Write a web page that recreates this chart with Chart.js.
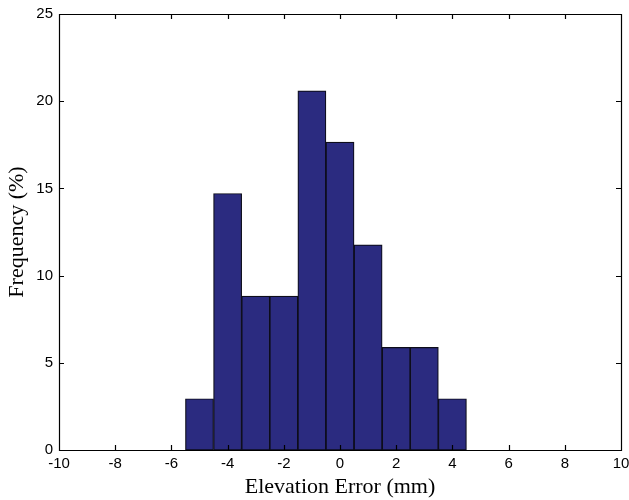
<!DOCTYPE html>
<html>
<head>
<meta charset="utf-8">
<script src="https://cdn.jsdelivr.net/npm/chart.js@4.4.1/dist/chart.umd.min.js"></script>
<style>
  html, body { margin: 0; padding: 0; background: #fff; }
  #wrap { width: 629px; height: 500px; }
</style>
</head>
<body>
<div id="wrap"><canvas id="hist" width="629" height="500"></canvas></div>
<script>
// Histogram of elevation error, bin width 1 mm
const binCenters = [-5, -4, -3, -2, -1, 0, 1, 2, 3, 4];
const frequency = [2.94, 14.71, 8.82, 8.82, 20.59, 17.65, 11.76, 5.88, 5.88, 2.94];
const xTicks = [-10, -8, -6, -4, -2, 0, 2, 4, 6, 8, 10];
const yTicks = [0, 5, 10, 15, 20, 25];

const tickFont = { family: "'Liberation Sans', Arial, sans-serif", size: 15 };
const titleFont = { family: "'Liberation Serif', 'Times New Roman', serif", size: 22 };

// MATLAB-style box with inward ticks on all four sides
const boxTicks = {
  id: 'boxTicks',
  afterDraw(chart) {
    const { ctx, chartArea: a, scales } = chart;
    const len = 5;
    ctx.save();
    ctx.strokeStyle = '#000';
    ctx.lineWidth = 1.2;
    ctx.beginPath();
    ctx.rect(a.left + 0.5, a.top + 0.5, a.right - a.left, a.bottom - a.top);
    xTicks.forEach(v => {
      const px = Math.round(scales.x.getPixelForValue(v)) + 0.5;
      ctx.moveTo(px, a.bottom); ctx.lineTo(px, a.bottom - len);
      ctx.moveTo(px, a.top); ctx.lineTo(px, a.top + len);
    });
    yTicks.forEach(v => {
      const py = Math.round(scales.y.getPixelForValue(v)) + 0.5;
      ctx.moveTo(a.left, py); ctx.lineTo(a.left + len, py);
      ctx.moveTo(a.right, py); ctx.lineTo(a.right - len, py);
    });
    ctx.stroke();
    ctx.restore();
  }
};

new Chart(document.getElementById('hist').getContext('2d'), {
  type: 'bar',
  data: {
    datasets: [{
      data: binCenters.map((x, i) => ({ x, y: frequency[i] })),
      backgroundColor: '#2b2b80',
      borderColor: '#0d0d1a',
      borderWidth: 1.2,
      borderSkipped: false,
      barPercentage: 1,
      categoryPercentage: 1
    }]
  },
  options: {
    responsive: false,
    animation: false,
    devicePixelRatio: 1,
    layout: { padding: { top: 14, right: 8, left: 0, bottom: 0 } },
    plugins: { legend: { display: false }, tooltip: { enabled: false } },
    scales: {
      x: {
        type: 'linear',
        min: -10,
        max: 10,
        offset: false,
        afterFit: s => { s.height = 50; s.paddingLeft = 0; s.paddingRight = 0; },
        afterBuildTicks: s => { s.ticks = xTicks.map(v => ({ value: v })); },
        grid: { display: false, drawTicks: false },
        border: { display: false },
        ticks: { color: '#000', font: tickFont, padding: 5, maxRotation: 0 },
        title: { display: true, text: 'Elevation Error (mm)', color: '#000', font: titleFont, padding: { top: 0, bottom: 0 } }
      },
      y: {
        min: 0,
        max: 25,
        afterFit: s => { s.width = 59; s.paddingTop = 0; s.paddingBottom = 0; },
        afterBuildTicks: s => { s.ticks = yTicks.map(v => ({ value: v })); },
        grid: { display: false, drawTicks: false },
        border: { display: false },
        ticks: { color: '#000', font: tickFont, padding: 6 },
        title: { display: true, text: 'Frequency (%)', color: '#000', font: titleFont, padding: { top: 4, bottom: 0 } }
      }
    }
  },
  plugins: [boxTicks]
});
</script>
</body>
</html>
